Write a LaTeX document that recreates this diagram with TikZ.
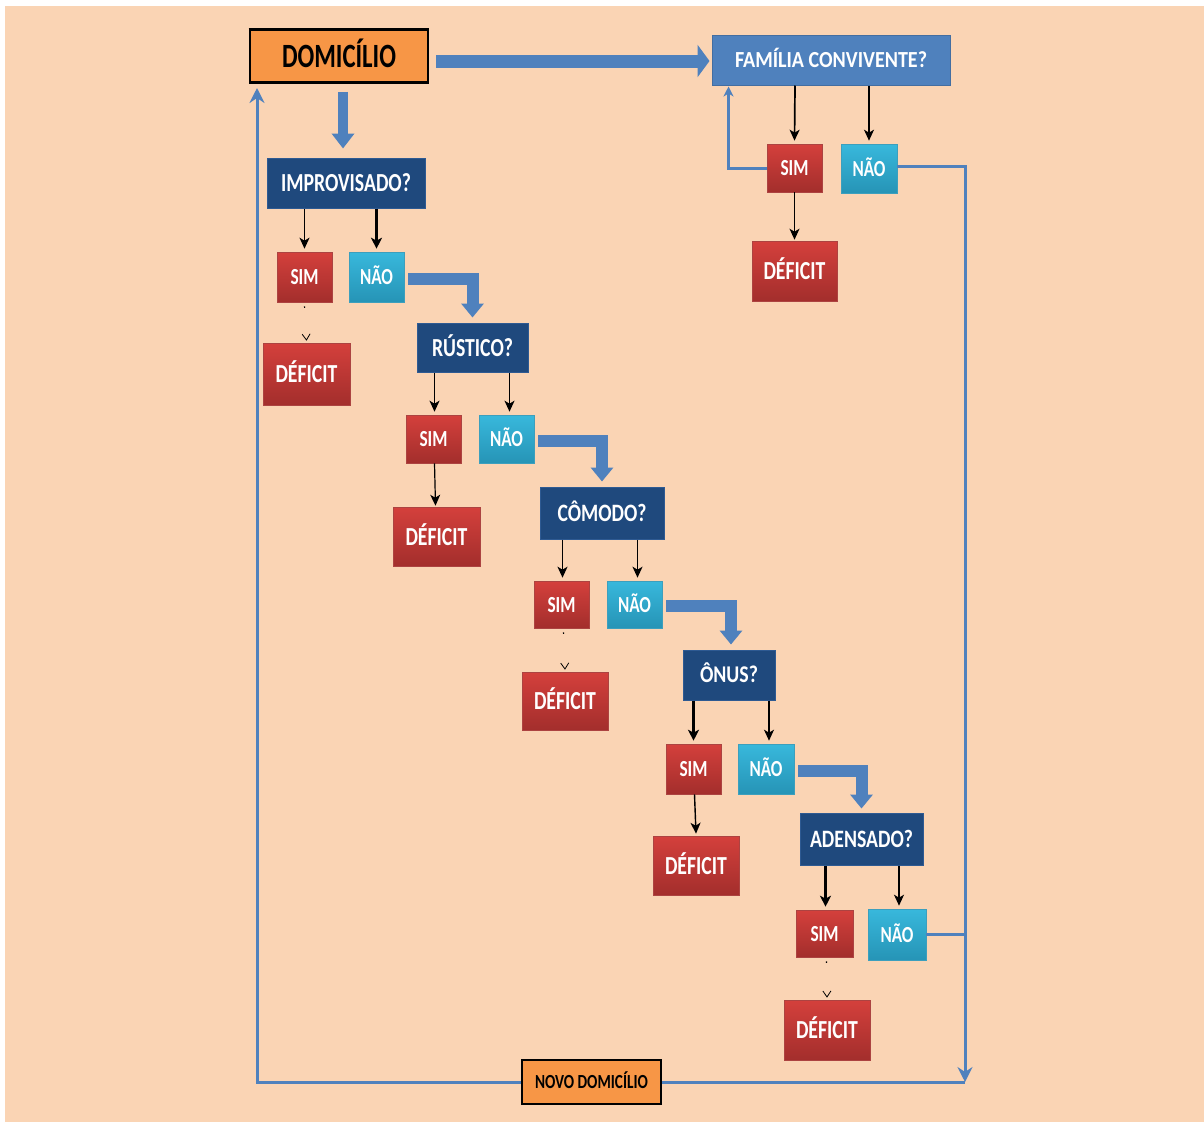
\documentclass[tikz,border=0pt]{standalone}
\usepackage{fontspec}
\setmainfont{Carlito}
\usepackage{graphicx}
\usetikzlibrary{arrows.meta,calc}
\newcommand\fw[2]{\resizebox{#1}{\height}{#2}}
\definecolor{peach}{HTML}{FAD4B4}
\definecolor{orangebox}{HTML}{F79646}
\definecolor{qblue}{HTML}{1F497D}
\definecolor{qedge}{HTML}{2E5A92}
\definecolor{fblue}{HTML}{4F81BD}
\definecolor{redtop}{HTML}{D4403C}
\definecolor{redbot}{HTML}{A32E2C}
\definecolor{cyantop}{HTML}{38B8DC}
\definecolor{cyanbot}{HTML}{2694B6}
\tikzset{
  base/.style={rectangle, inner sep=0pt, text depth=0pt, align=center},
  orangebx/.style={base, fill=orangebox, draw=black, line width=2.6pt, text=black},
  qbox/.style={base, fill=qblue, draw=qedge, line width=1pt, text=white},
  fambox/.style={base, fill=fblue, draw=fblue!85!black, line width=1pt, text=white},
  simbox/.style={base, top color=redtop, bottom color=redbot, draw=redbot!90!white, line width=0.6pt, text=white,
     minimum width=55pt, minimum height=48pt, font=\fontsize{23}{23}\selectfont\bfseries, text height=15pt},
  naobox/.style={base, top color=cyantop, bottom color=cyanbot, draw=cyanbot!90!white, line width=0.6pt, text=white,
     minimum width=55pt, minimum height=48pt, font=\fontsize{23}{23}\selectfont\bfseries, text height=15pt},
  defbox/.style={base, top color=redtop, bottom color=redbot, draw=redbot!90!white, line width=0.6pt, text=white,
     minimum width=86pt, minimum height=59pt, font=\fontsize{26}{26}\selectfont\bfseries, text height=17pt},
  blk/.style={draw=black, line width=1.7pt, -{Stealth[length=11pt,width=10pt,inset=3pt]}},
  blkthick/.style={draw=black, line width=2.8pt, -{Stealth[length=11pt,width=11pt,inset=3pt]}},
  faint/.style={draw=black, line width=1.1pt, dash pattern=on 1.5pt off 300pt, -{Straight Barb[length=6pt,width=8pt,line width=0.8pt]}},
  fat/.style={draw=fblue, line width=12pt, line join=miter, -{Triangle[length=14pt,width=22pt]}},
  bl/.style={draw=fblue, line width=3pt},
  blarr/.style={bl, -{Stealth[length=15pt,width=15pt,inset=5pt]}},
  blarrs/.style={bl, -{Stealth[length=10pt,width=10pt,inset=3pt]}},
}
\begin{document}
\begin{tikzpicture}[x=1pt, y=-1pt]
\useasboundingbox (0,0) rectangle (1204,1122);
\fill[white] (0,0) rectangle (1204,1122);
\fill[peach] (5,6) rectangle (1204,1122);

% main nodes
\node[orangebx, minimum width=178pt, minimum height=53pt, font=\fontsize{34}{34}\selectfont\bfseries, text height=22pt] (dom) at (339,56) {\fw{114pt}{DOMICÍLIO}};
\draw[black, line width=2pt] ([yshift=-1pt]dom.north west) -- ([yshift=-1pt]dom.north east);
\node[fambox, minimum width=238pt, minimum height=50pt, font=\fontsize{23}{23}\selectfont\bfseries, text height=15pt] (fam) at (831,60) {\fw{192pt}{FAMÍLIA CONVIVENTE?}};
\node[simbox] (fsim) at (794.5,168) {\fw{28pt}{SIM}};
\node[naobox, minimum width=56pt, minimum height=49pt] (fnao) at (869,168.5) {\fw{33pt}{NÃO}};
\node[defbox, minimum width=85pt, minimum height=60pt] (fdef) at (794.5,271) {\fw{62pt}{DÉFICIT}};

\node[qbox, minimum width=158pt, minimum height=50pt, font=\fontsize{26}{26}\selectfont\bfseries, text height=17pt] (imp) at (346,183) {\fw{130pt}{IMPROVISADO?}};
\node[simbox, minimum height=50pt] (isim) at (304.5,277) {\fw{28pt}{SIM}};
\node[naobox, minimum height=50pt] (inao) at (376.5,277) {\fw{33pt}{NÃO}};
\node[defbox, minimum width=87pt, minimum height=62pt] (idef) at (306.5,374) {\fw{62pt}{DÉFICIT}};

\node[qbox, minimum width=111pt, minimum height=49pt, font=\fontsize{26}{26}\selectfont\bfseries, text height=17pt] (rus) at (472.5,347.5) {\fw{81pt}{RÚSTICO?}};
\node[simbox] (rsim) at (433.5,439) {\fw{28pt}{SIM}};
\node[naobox] (rnao) at (506.5,439) {\fw{33pt}{NÃO}};
\node[defbox, minimum width=87pt] (rdef) at (436.5,536.5) {\fw{62pt}{DÉFICIT}};

\node[qbox, minimum width=124pt, minimum height=52pt, font=\fontsize{25}{25}\selectfont\bfseries, text height=16pt] (com) at (602,513) {\fw{89pt}{CÔMODO?}};
\node[simbox, minimum height=47pt] (csim) at (561.5,604.5) {\fw{28pt}{SIM}};
\node[naobox, minimum height=47pt] (cnao) at (634.5,604.5) {\fw{33pt}{NÃO}};
\node[defbox, minimum height=58pt] (cdef) at (565,701) {\fw{62pt}{DÉFICIT}};

\node[qbox, minimum width=92pt, minimum height=50pt, font=\fontsize{24}{24}\selectfont\bfseries, text height=15pt] (onus) at (729,675) {\fw{58pt}{ÔNUS?}};
\node[simbox, minimum height=50pt] (osim) at (693.5,769) {\fw{28pt}{SIM}};
\node[naobox, minimum width=56pt, minimum height=50pt] (onao) at (766,769) {\fw{33pt}{NÃO}};
\node[defbox] (odef) at (696,865.5) {\fw{62pt}{DÉFICIT}};

\node[qbox, minimum width=123pt, minimum height=52pt, font=\fontsize{25}{25}\selectfont\bfseries, text height=16pt] (aden) at (861.5,839) {\fw{103pt}{ADENSADO?}};
\node[simbox, minimum width=57pt, minimum height=47pt] (asim) at (824.5,933.5) {\fw{28pt}{SIM}};
\node[naobox, minimum width=58pt, minimum height=51pt] (anao) at (897,934.5) {\fw{33pt}{NÃO}};
\node[defbox, minimum height=60pt] (adef) at (827,1030) {\fw{62pt}{DÉFICIT}};

\node[orangebx, line width=2.8pt, minimum width=139pt, minimum height=44pt, font=\fontsize{20}{20}\selectfont\bfseries, text height=13pt] (novo) at (591.5,1082) {\fw{113pt}{NOVO DOMICÍLIO}};

% coordinates for the loop lines
\coordinate (rc) at (965,1082);
\coordinate (lc) at (257,88);

% fat arrows
\draw[fat, line width=13pt, -{Triangle[length=12pt,width=32pt]}] ($(dom.east)+(7,5)$) -- ($(fam.west)+(-2,1)$);
\draw[fat, line width=10pt, -{Triangle[length=15pt,width=22pt]}] ($(dom.south)+(4,8)$) -- ($(imp.north)+(-3,-9)$);
\draw[fat] ($(inao.east)+(4,2)$) -| ($(rus.north)+(0,-5)$);
\draw[fat] ($(rnao.east)+(4,2)$) -| ($(com.north)+(0,-5)$);
\draw[fat] ($(cnao.east)+(4,1)$) -| ($(onus.north)+(2,-5)$);
\draw[fat] ($(onao.east)+(4,2)$) -| ($(aden.north)+(0,-4)$);

% question -> answers
\draw[blk] ($(fam.south)+(-36,0)$) -- ([yshift=3pt]fsim.north);
\draw[blk] ($(fam.south)+(38,0)$) -- ([yshift=3pt]fnao.north);
\draw[blk, line width=1.2pt] (fsim.south) -- ([yshift=1pt]fdef.north);

\draw[blk] (isim.north |- imp.south) -- ([yshift=3pt]isim.north);
\draw[blkthick] (inao.north |- imp.south) -- ([yshift=3pt]inao.north);
\draw[faint] ([yshift=-4pt]isim.south) -- ([yshift=2pt]idef.north);

\draw[blk] ($(rsim.north |- rus.south)+(1,0)$) -- ([xshift=1pt,yshift=3pt]rsim.north);
\draw[blk] ($(rnao.north |- rus.south)+(3,0)$) -- ([xshift=3pt,yshift=3pt]rnao.north);
\draw[blk, line width=1.2pt] ($(rsim.south)+(1,0)$) -- ([xshift=-1pt,yshift=1pt]rdef.north);

\draw[blk] ($(csim.north |- com.south)+(1,0)$) -- ([xshift=1pt,yshift=3pt]csim.north);
\draw[blk] ($(cnao.north |- com.south)+(3,0)$) -- ([xshift=3pt,yshift=3pt]cnao.north);
\draw[faint] ([xshift=2pt,yshift=-4pt]csim.south) -- ([yshift=2pt]cdef.north);

\draw[blkthick] (osim.north |- onus.south) -- ([yshift=3pt]osim.north);
\draw[blk] ($(onao.north |- onus.south)+(3,0)$) -- ([xshift=3pt,yshift=3pt]onao.north);
\draw[blk, line width=1.4pt] ($(osim.south)+(1,0)$) -- ([xshift=0pt,yshift=2pt]odef.north);

\draw[blkthick] ($(asim.north |- aden.south)+(1,0)$) -- ([xshift=1pt,yshift=3pt]asim.north);
\draw[blk] ($(anao.north |- aden.south)+(2,0)$) -- ([xshift=2pt,yshift=3pt]anao.north);
\draw[faint] ([xshift=2pt,yshift=-4pt]asim.south) -- ([yshift=2pt]adef.north);

% blue loop lines
\draw[blarrs] (fsim.west) -| ($(fam.south west)+(17,1)$);
\draw[blarr] ($(fnao.east)+(0,-2)$) -| (rc);
\draw[bl] (anao.east) -- (anao.east -| rc);
\draw[bl] (novo.east) -- (novo.east -| rc);
\draw[blarr] (novo.west) -| (lc);
\end{tikzpicture}
\end{document}
